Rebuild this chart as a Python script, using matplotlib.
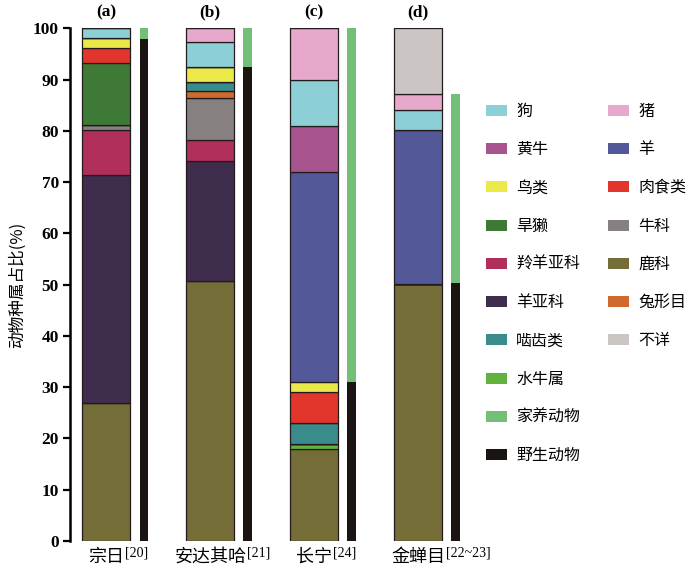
import matplotlib
matplotlib.use("Agg")
import matplotlib.pyplot as plt
from matplotlib.patches import Patch
from matplotlib.transforms import IdentityTransform

plt.rcParams['font.family'] = ['Noto Sans CJK SC', 'DejaVu Sans']

sites = ["宗日", "安达其哈", "长宁", "金蝉目"]
refs = ["[20]", "[21]", "[24]", "[22~23]"]
panels = ["(a)", "(b)", "(c)", "(d)"]

# stacking order bottom -> top, values per site (a, b, c, d) in %
stack_order = ["鹿科", "水牛属", "羊亚科", "羚羊亚科", "牛科", "兔形目", "啮齿类",
               "旱獭", "肉食类", "鸟类", "羊", "黄牛", "狗", "猪", "不详"]
values = {
    "鹿科":   [27.0, 50.7, 18.0, 50.1],
    "水牛属": [0.0, 0.0, 1.0, 0.0],
    "羊亚科": [44.3, 23.5, 0.0, 0.0],
    "羚羊亚科": [8.9, 4.1, 0.0, 0.0],
    "牛科":   [0.9, 8.2, 0.0, 0.0],
    "兔形目": [0.0, 1.3, 0.0, 0.0],
    "啮齿类": [0.0, 1.8, 4.1, 0.0],
    "旱獭":   [12.1, 0.0, 0.0, 0.0],
    "肉食类": [2.9, 0.0, 5.9, 0.0],
    "鸟类":   [2.1, 2.8, 2.1, 0.0],
    "羊":     [0.0, 0.0, 40.9, 30.1],
    "黄牛":   [0.0, 0.0, 9.0, 0.0],
    "狗":     [1.8, 4.9, 9.0, 3.9],
    "猪":     [0.0, 2.7, 10.0, 3.0],
    "不详":   [0.0, 0.0, 0.0, 12.9],
}
wild = [97.9, 92.5, 31.1, 50.3]
domestic = [2.1, 7.5, 68.9, 36.8]

colors = {
    "狗": "#8dcfd6", "黄牛": "#a8548f", "鸟类": "#ebe84a", "旱獭": "#3e7a35",
    "羚羊亚科": "#b02f5a", "羊亚科": "#3f2d4d", "啮齿类": "#3a8c8c", "水牛属": "#62b33e",
    "家养动物": "#74bf78", "野生动物": "#1a1512",
    "猪": "#e6a9cc", "羊": "#535898", "肉食类": "#e2352b", "牛科": "#878080",
    "鹿科": "#756d37", "兔形目": "#d0692e", "不详": "#cbc5c3",
}
legend_col1 = ["狗", "黄牛", "鸟类", "旱獭", "羚羊亚科", "羊亚科", "啮齿类", "水牛属", "家养动物", "野生动物"]
legend_col2 = ["猪", "羊", "肉食类", "牛科", "鹿科", "兔形目", "不详"]

W, H = 700, 574
fig = plt.figure(figsize=(7, 5.74), dpi=100)
ax = fig.add_axes([70 / W, 1 - 541 / H, 400 / W, (541 - 28.3) / H])

x = list(range(len(sites)))
bw = 0.46
off = 0.36
ww = 0.082

bottoms = [0.0] * len(sites)
for cat in stack_order:
    v = values[cat]
    ax.bar(x, v, width=bw, bottom=bottoms, color=colors[cat],
           edgecolor="#231b1b", linewidth=0.9, zorder=2)
    bottoms = [b + vi for b, vi in zip(bottoms, v)]

xw = [xi + off for xi in x]
ax.bar(xw, wild, width=ww, color=colors["野生动物"], linewidth=0, zorder=2)
ax.bar(xw, domestic, width=ww, bottom=wild, color=colors["家养动物"], linewidth=0, zorder=2)

ax.set_xlim(-0.35, 3.5)
ax.set_ylim(0, 100)
ax.set_yticks(range(0, 101, 10))
ax.set_xticks([])
for s in ["top", "right", "bottom"]:
    ax.spines[s].set_visible(False)
ax.spines["left"].set_linewidth(1.8)
ax.tick_params(axis="y", direction="out", length=5, width=1.6, pad=3)
for lab in ax.get_yticklabels():
    lab.set_fontfamily("Liberation Serif")
    lab.set_fontweight("bold")
    lab.set_fontsize(12.5)

ax.set_ylabel("动物种属占比(%)", fontsize=12, labelpad=5)

# panel labels above the bars
ytitle = 1 + (28.3 - 12) / (541 - 28.3)
for xi, p in zip(x, panels):
    ax.text(xi, ytitle, p, transform=ax.get_xaxis_transform(),
            ha="center", va="center", fontsize=12.5, fontweight="bold",
            family="Liberation Serif", clip_on=False)

# site labels with superscript references
fig.canvas.draw()
renderer = fig.canvas.get_renderer()
for xi, s, r in zip(x, sites, refs):
    t = ax.text(xi, -0.013, s, transform=ax.get_xaxis_transform(), ha="center", va="top",
                fontsize=13)
    bb = t.get_window_extent(renderer)
    fig.text(bb.x1 + 1, bb.y1 + 1, r, transform=IdentityTransform(), ha="left", va="top",
             fontsize=10, family="Liberation Serif")

handles1 = [Patch(facecolor=colors[c], edgecolor="none") for c in legend_col1]
handles2 = [Patch(facecolor=colors[c], edgecolor="none") for c in legend_col2]
common = dict(frameon=False, fontsize=11.5, labelspacing=1.33, handlelength=1.3,
              handleheight=0.7, handletextpad=0.6, borderpad=0, borderaxespad=0,
              loc="upper left")
fig.legend(handles1, legend_col1, bbox_to_anchor=(486 / W, 1 - 103 / H), **common)
fig.legend(handles2, legend_col2, bbox_to_anchor=(608 / W, 1 - 103 / H), **common)

fig.savefig("out.png", dpi=100)
